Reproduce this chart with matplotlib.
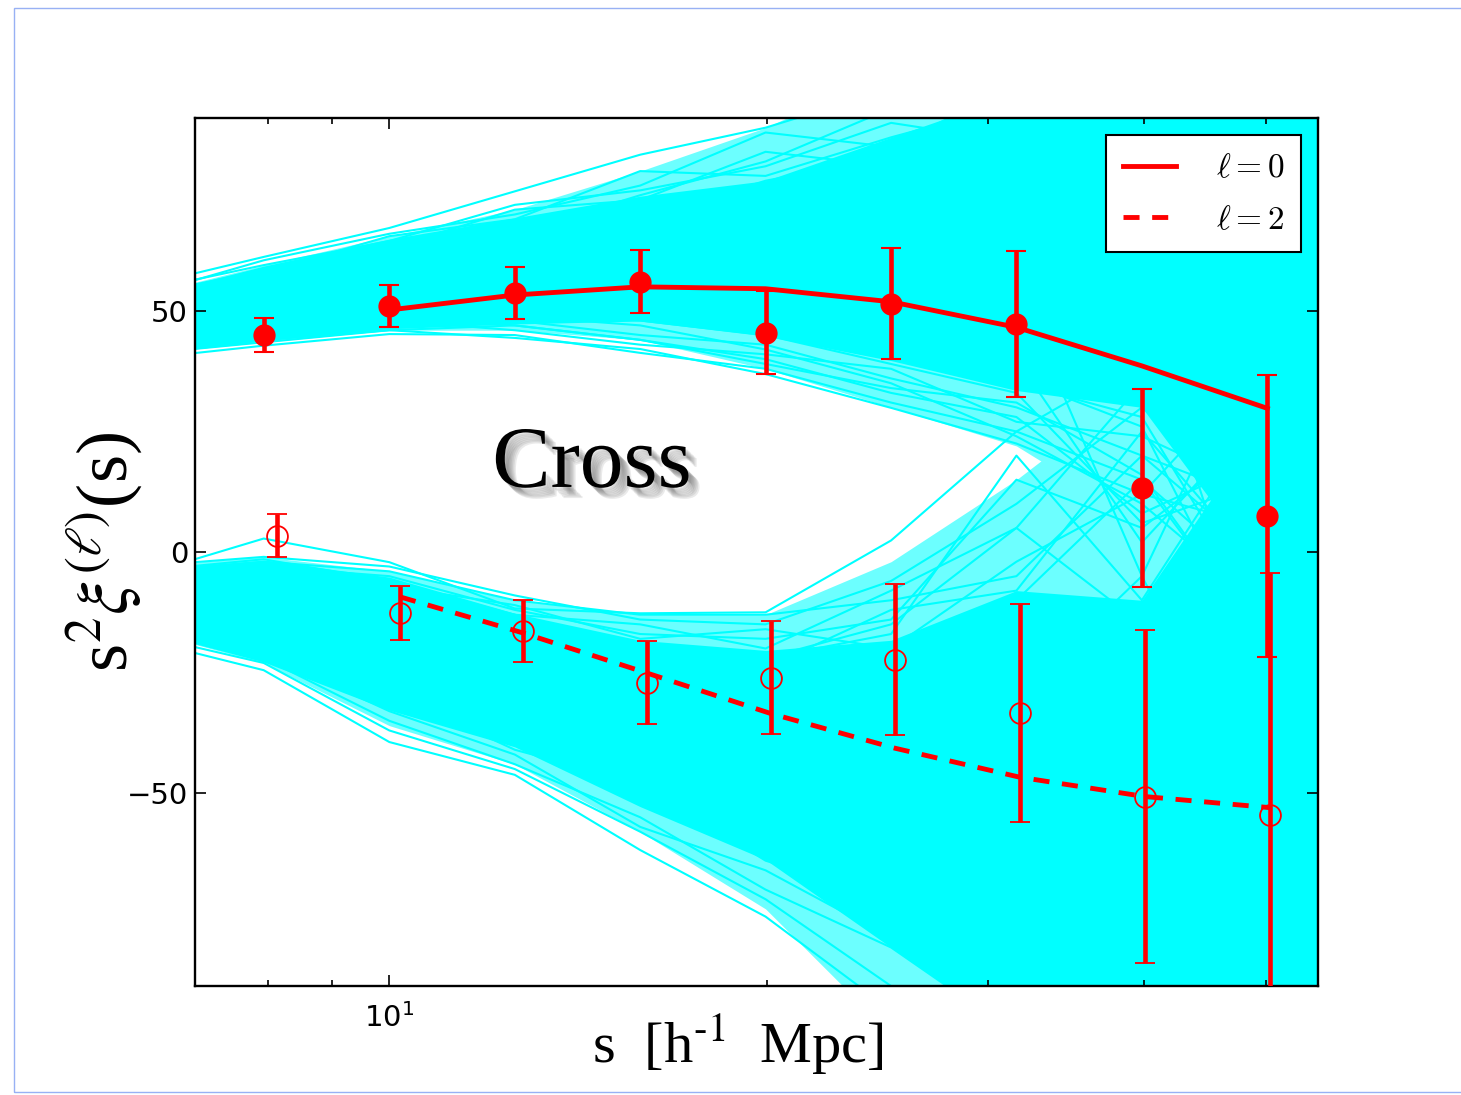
import matplotlib
matplotlib.use('Agg')
import numpy as np
import matplotlib.pyplot as plt
import matplotlib.patheffects as pe
from matplotlib.ticker import NullFormatter
from matplotlib.patches import Rectangle

# separation bins (h^-1 Mpc): mocks run one bin past each side of the plot range
s_mock = [6.31, 7.94, 10.0, 12.59, 15.85, 19.95, 25.12, 31.62, 39.81, 50.12, 63.10]
s_data = [7.94, 10.0, 12.59, 15.85, 19.95, 25.12, 31.62, 39.81, 50.12]
quad_shift = 0.2   # quadrupole points nudged right so bars don't overlap

# measured multipoles s^2 xi_l(s) with errors
xi0 = [45.0, 51.0, 53.8, 56.1, 45.5, 51.5, 47.3, 13.3, 7.5]
err0 = [3.5, 4.3, 5.4, 6.6, 8.6, 11.5, 15.2, 20.5, 29.3]
xi2 = [3.4, -12.7, -16.3, -27.1, -26.1, -22.3, -33.3, -50.7, -54.6]
err2 = [4.5, 5.6, 6.4, 8.6, 11.7, 15.7, 22.6, 34.5, 50.2]

# best-fit model, from s = 10 upwards
model0 = [50.2, 53.3, 55.0, 54.6, 51.9, 46.6, 38.6, 29.8]
model2 = [-9.3, -16.8, -25.1, -33.5, -40.7, -46.7, -50.7, -53.0]

# dense part of the mock scatter (lower / upper edge) for each multipole
mono_lo = [40.7, 43.8, 46.3, 47.3, 47.9, 44.8, 39.7, 33.5, 30.0, -5.0, -30.0]
mono_hi = [52.6, 59.3, 64.9, 69.3, 73.8, 77.0, 86.0, 95.0, 100.0, 100.0, 100.0]
quad_lo = [-15.9, -22.8, -32.8, -40.4, -52.8, -63.8, -82.0, -100.0, -110.0, -110.0, -120.0]
quad_hi = [-4.1, -1.7, -5.2, -12.7, -18.3, -20.4, -18.3, -8.0, -10.0, 28.0, 40.0]

# full extent of the mocks, where they only form a loose mesh
mono_env_lo = [41.0, 43.5, 46.0, 46.0, 44.0, 38.0, 30.0, 22.0, 6.0, -30.0, -50.0]
mono_env_hi = [53.0, 59.5, 65.5, 71.0, 79.0, 88.0, 100.0, 100.0, 100.0, 100.0, 100.0]
quad_env_lo = [-16.0, -23.0, -36.0, -44.0, -58.0, -74.0, -100.0, -105.0, -110.0, -110.0, -120.0]
quad_env_hi = [-3.0, -1.0, -4.0, -10.0, -13.0, -13.0, -2.0, 15.0, 35.0, 40.0, 50.0]

# individual mocks
mono_mocks = [
    [55, 61.2, 67.2, 74.8, 82.4, 88, 96, 100, 105, 100, 95],
    [53, 60.5, 66, 70, 76, 87, 84, 92, 88, 96, 90],
    [54, 59.5, 64.5, 72, 75, 80, 89, 85, 94, 82, 88],
    [52, 58, 65.5, 69, 79, 78, 86, 93, 80, 90, 98],
    [51, 57, 63, 71, 73, 83, 80, 88, 97, 75, 85],
    [53, 58.5, 63, 68, 72, 76, 84, 97, 91, 104, 80],
    [52, 57.5, 62, 66, 74, 81, 92, 89, 99, 86, 100],
    [50, 56, 61, 67, 71, 74, 77, 83, 90, 95, 70],
    [51, 55, 60, 65, 69, 77, 82, 79, 86, 78, 92],
    [50, 54, 59, 63, 67, 71, 78, 86, 75, 92, 65],
    [48, 52, 56, 60, 66, 70, 75, 72, 84, 88, 80],
    [46, 50, 55, 58, 60, 64, 69, 78, 70, 86, 92],
    [47, 51, 55, 59, 63, 62, 66, 70, 77, 60, 75],
    [46, 50, 54, 57, 61, 66, 62, 67, 62, 72, 55],
    [42, 44, 46, 44.4, 42.1, 36.9, 29.9, 22.5, 12, 5, -5],
    [40, 42.8, 45.2, 45, 41.3, 38, 31, 25, 15, -8, 10],
    [41, 43.5, 46, 47, 44, 40, 33, 28, 8, 20, -15],
    [43, 45, 47, 48, 45, 43, 36, 30, 20, -2, 5],
    [42, 44, 48, 46, 43, 41, 38, 27, 24, 12, -20],
    [44, 46, 49, 47, 44, 39, 34, 31, 16, -20, 0],
    [43, 44.5, 47.5, 49, 47, 42, 35, 24, 10, -12, -30],
    [44, 45.5, 48, 50, 48, 45, 39, 33, 6, 15, -35],
    [45, 47, 49, 50.5, 49, 46, 40, 36, 26, -25, 12],
    [47, 49, 52, 55, 57, 55, 50, 40, 2, 30, 10],
    [45, 48, 51, 54, 55, 52, 45, 35, 28, -15, 20],
    [50, 53, 57, 61, 64, 67, 70, 65, 50, -30, 0],
    [49, 54, 58, 62, 68, 72, 80, 90, 60, 40, 20],
    [48, 51, 54, 56, 58, 60, 58, 50, 40, 60, -10],
    [46, 49, 53, 57, 59, 58, 62, 55, -5, 50, 30],
    [47, 50, 52, 53, 50, 47, 42, 38, 35, 45, -25],
    [48, 52, 55, 59, 62, 56, 48, 44, 30, 8, 45],
    [46, 49, 52, 56, 54, 50, 53, 46, 45, 25, -40],
    [49, 53, 56, 62, 65, 60, 55, 62, 38, 70, 15],
    [47, 52, 57, 60, 64, 68, 65, 58, 68, 35, 60],
    [45, 48, 53, 55, 52, 49, 46, 42, 52, -5, 35],
]
quad_mocks = [
    [-5, 2.8, -2.1, -11.7, -12.7, -12.5, 2.4, 25, 40, 35, 50],
    [-3, -1, -3, -9, -14, -15, -6, 10, 30, 45, 20],
    [-4, -2, -4, -10, -13, -13, -10, -5, 20, 10, 40],
    [-6, -3, -5, -12, -17, -18, -14, 15, 5, 25, 0],
    [-4, -1.5, -6, -13, -15, -20, -8, 5, 35, 15, 55],
    [-5, -2.5, -7, -11, -18, -16, -20, -2, 12, 40, 10],
    [-6, -4, -6, -14, -19, -22, -17, 20, -10, 30, -15],
    [-7, -5, -8, -13, -20, -24, -12, -8, 25, -5, 30],
    [-18, -24.5, -39.4, -46.2, -61.8, -75.6, -95, -100, -110, -105, -120],
    [-17, -23, -37, -45, -58, -72, -90, -96, -100, -115, -110],
    [-16, -22, -35, -44, -55, -70, -82, -100, -90, -120, -100],
    [-15, -21, -33, -42, -57, -66, -80, -92, -105, -95, -110],
    [-16, -21.5, -31, -40, -52, -62, -76, -88, -96, -110, -90],
    [-14, -20, -30, -38, -50, -60, -70, -84, -98, -85, -115],
    [-15, -20.5, -29, -41, -48, -64, -72, -78, -92, -100, -80],
    [-13, -19, -28, -36, -47, -57, -68, -82, -75, -95, -105],
    [-10, -12, -18, -25, -30, -32, -40, -60, -80, -60, -95],
    [-8, -10, -15, -22, -28, -35, -28, -45, -20, -70, -40],
    [-12, -15, -20, -28, -36, -45, -55, -35, -60, -30, -80],
    [-7, -8, -12, -18, -24, -27, -20, -15, -40, 10, -60],
    [-11, -14, -22, -30, -40, -50, -48, -70, -50, -85, -30],
    [-9, -11, -16, -20, -26, -24, -30, -10, 15, -20, 30],
    [-13, -16, -25, -33, -45, -55, -65, -75, -95, -50, -100],
    [-6, -7, -10, -15, -20, -22, -15, 5, -15, 20, -20],
    [-10, -13, -19, -26, -32, -38, -45, -25, -35, -45, 10],
    [-14, -18, -26, -34, -42, -48, -60, -55, -25, -75, -50],
    [-9, -10, -14, -19, -23, -29, -35, -50, -65, -15, -70],
    [-11, -13, -17, -24, -34, -40, -36, -30, -5, -55, 5],
    [-12, -14, -21, -27, -38, -52, -58, -48, -72, -35, -90],
    [-8, -9, -13, -21, -25, -30, -25, -40, -55, -25, -10],
]

fig = plt.figure(figsize=(14.61, 10.95), dpi=100)
ax = fig.add_axes([0.1335, 0.0995, 0.7686, 0.7927])

# mock realisations: loose mesh, dense core, then the single curves
ax.fill_between(s_mock, mono_env_lo, mono_env_hi, color='#6cffff', lw=0, zorder=1)
ax.fill_between(s_mock, quad_env_lo, quad_env_hi, color='#6cffff', lw=0, zorder=1)
ax.fill_between(s_mock, mono_lo, mono_hi, color='cyan', lw=0, zorder=1)
ax.fill_between(s_mock, quad_lo, quad_hi, color='cyan', lw=0, zorder=1)
for m in mono_mocks + quad_mocks:
    ax.plot(s_mock, m, color='cyan', lw=1.5, zorder=1)

# data
s_quad = np.array(s_data) + quad_shift
ax.errorbar(s_data, xi0, yerr=err0, fmt='o', color='red', ms=15,
            elinewidth=3.3, capsize=7, capthick=1.5, zorder=5)
ax.errorbar(s_quad, xi2, yerr=err2, fmt='o', color='red', mfc='none',
            mec='red', mew=1.3, ms=15, elinewidth=3.3, capsize=7,
            capthick=1.5, zorder=5)

# model
ax.plot(s_data[1:], model0, '-', color='red', lw=3.5, zorder=4,
        label=r'$\ell=0$')
ax.plot(s_quad[1:], model2, color='red', lw=3.5, zorder=4,
        linestyle=(0, (3.3, 2.6)), label=r'$\ell=2$')

ax.set_xscale('log')
ax.set_xlim(7, 55)
ax.set_ylim(-90, 90)
ax.set_yticks([-50, 0, 50])
ax.xaxis.set_minor_formatter(NullFormatter())
ax.tick_params(which='both', direction='in', top=True, right=True,
               labelsize=21, width=1.2)
ax.tick_params(which='major', length=8)
ax.tick_params(which='minor', length=4)
ax.tick_params(axis='x', pad=12)
ax.tick_params(axis='y', pad=5)
for sp in ax.spines.values():
    sp.set_linewidth(1.7)

ax.set_xlabel(r's  [h$^{\text{-1}}$  Mpc]', fontsize=42,
              family='Liberation Serif', math_fontfamily='stix')
ax.xaxis.set_label_coords(0.4835, -0.03)
ax.set_ylabel(r's$^2\xi^{(\ell)}$(s)', fontsize=52,
              family='Liberation Serif', math_fontfamily='stix')
ax.yaxis.set_label_coords(-0.045, 0.5)

# sample name with a soft drop shadow
shadow = [pe.SimplePatchShadow(offset=(d, -d), shadow_rgbFace='0.35', alpha=0.12)
          for d in (2, 3, 4, 5, 6, 7, 8)]
ax.text(0.3535, 0.575, 'Cross', transform=ax.transAxes, ha='center',
        va='baseline', fontsize=63, family='Liberation Serif', zorder=6,
        path_effects=shadow + [pe.Normal()])

leg = ax.legend(loc='upper right', prop=dict(size=24, math_fontfamily='cm'),
                fancybox=False, framealpha=1, edgecolor='black',
                handlelength=1.6, handletextpad=1.2, borderpad=0.5,
                labelspacing=0.55)
leg.get_frame().set_linewidth(1.5)
leg.set_zorder(10)

# thin page border
fig.patches.append(Rectangle((14, 3), 1500, 1084, transform=None,
                             fill=False, edgecolor='#7f9ef2', lw=1.0,
                             alpha=0.8))

fig.savefig('out.png', dpi=100)
